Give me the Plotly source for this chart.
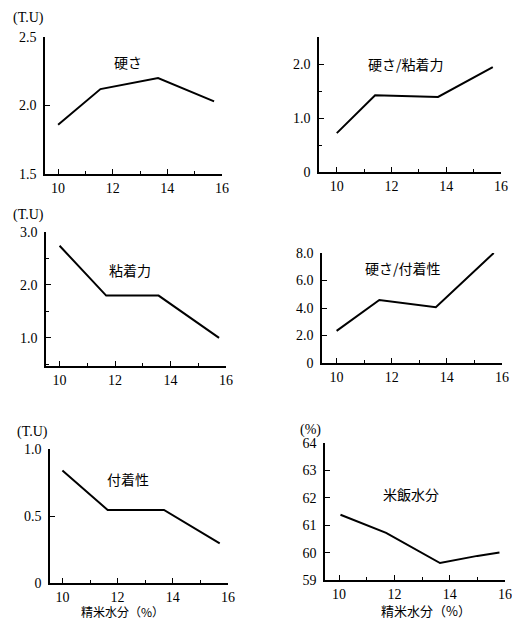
import plotly.graph_objects as go

# ---- data ----
hard_x = [10.0, 11.55, 13.66, 15.71]
hard_y = [1.86, 2.12, 2.20, 2.03]

hard_adh_x = [10.0, 11.4, 13.7, 15.7]
hard_adh_y = [0.72, 1.42, 1.39, 1.94]

adh_x = [10.0, 11.68, 13.57, 15.75]
adh_y = [2.74, 1.80, 1.80, 1.00]

hard_stick_x = [10.0, 11.55, 13.6, 15.7]
hard_stick_y = [2.34, 4.58, 4.05, 8.0]

stick_x = [10.0, 11.64, 13.68, 15.7]
stick_y = [0.84, 0.545, 0.545, 0.295]

rice_x = [10.05, 11.7, 13.65, 15.0, 15.8]
rice_y = [61.38, 60.72, 59.62, 59.88, 60.0]

x_ticks = [10, 12, 14, 16]
x_labels = ["10", "12", "14", "16"]

p1_ticks = [1.5, 2.0, 2.5]; p1_labels = ["1.5", "2.0", "2.5"]
p2_ticks = [0, 1.0, 2.0]; p2_labels = ["0", "1.0", "2.0"]
p3_ticks = [1.0, 2.0, 3.0]; p3_labels = ["1.0", "2.0", "3.0"]
p4_ticks = [0, 2, 4, 6, 8]; p4_labels = ["0", "2.0", "4.0", "6.0", "8.0"]
p5_ticks = [0, 0.5, 1.0]; p5_labels = ["0", "0.5", "1.0"]
p6_ticks = [59, 60, 61, 62, 63, 64]; p6_labels = ["59", "60", "61", "62", "63", "64"]

panel_titles = ["硬さ", "硬さ/粘着力", "粘着力", "硬さ/付着性", "付着性", "米飯水分"]
unit_labels = ["(T.U)", "(T.U)", "(T.U)", "(%)"]
x_title = "精米水分（%）"

W, H = 512, 620
SERIF = "Liberation Serif"
CJK = "Noto Sans CJK JP"

def fx(px):
    return px / W

def fy(py):
    return 1 - py / H

# panel geometry in window pixels: (x_left, x_right, y_top, y_bottom), axis ranges
panels = [
    dict(x=hard_x, y=hard_y, px=(45, 222, 37, 174), xr=[9.52, 16.0], yr=[1.5, 2.5],
         tv=p1_ticks, tt=p1_labels, minor=None),
    dict(x=hard_adh_x, y=hard_adh_y, px=(319, 501, 37, 172), xr=[9.35, 16.0], yr=[0, 2.5],
         tv=p2_ticks, tt=p2_labels, minor=0.5),
    dict(x=adh_x, y=adh_y, px=(46, 226, 232, 366), xr=[9.51, 16.0], yr=[0.47, 3.0],
         tv=p3_ticks, tt=p3_labels, minor=0.5),
    dict(x=hard_stick_x, y=hard_stick_y, px=(322, 502, 253, 363), xr=[9.47, 16.0], yr=[0, 8.0],
         tv=p4_ticks, tt=p4_labels, minor=None),
    dict(x=stick_x, y=stick_y, px=(50, 228, 449, 583), xr=[9.55, 16.0], yr=[0, 1.0],
         tv=p5_ticks, tt=p5_labels, minor=None),
    dict(x=rice_x, y=rice_y, px=(325, 505, 443, 580), xr=[9.49, 16.0], yr=[59, 64],
         tv=p6_ticks, tt=p6_labels, minor=None),
]

fig = go.Figure()
layout = dict(
    width=W, height=H, margin=dict(l=0, r=0, t=0, b=0, pad=0, autoexpand=False),
    paper_bgcolor="white", plot_bgcolor="white", showlegend=False,
)

for i, p in enumerate(panels, start=1):
    sfx = "" if i == 1 else str(i)
    fig.add_trace(go.Scatter(x=p["x"], y=p["y"], mode="lines",
                             line=dict(color="black", width=2),
                             xaxis="x" + sfx, yaxis="y" + sfx, hoverinfo="skip"))
    x0, x1, yt, yb = p["px"]
    xa = dict(domain=[fx(x0), fx(x1)], range=p["xr"], anchor="y" + sfx, automargin=False,
              showline=True, linecolor="black", linewidth=1.5, showgrid=False, zeroline=False,
              ticks="inside", ticklen=5, tickwidth=1.2, tickcolor="black",
              tickvals=x_ticks, ticktext=x_labels,
              tickfont=dict(family=SERIF, size=14, color="black"),
              minor=dict(ticks="inside", ticklen=3, tickwidth=1, tickcolor="black", dtick=1, tick0=10, showgrid=False))
    ya = dict(domain=[fy(yb), fy(yt)], range=p["yr"], anchor="x" + sfx, automargin=False,
              showline=True, linecolor="black", linewidth=1.5, showgrid=False, zeroline=False,
              ticks="inside", ticklen=5, tickwidth=1.2, tickcolor="black",
              tickvals=p["tv"], ticktext=p["tt"], ticklabelstandoff=4,
              tickfont=dict(family=SERIF, size=14, color="black"))
    if p["minor"]:
        ya["minor"] = dict(ticks="inside", ticklen=3, tickwidth=1, tickcolor="black",
                           dtick=p["minor"], tick0=0, showgrid=False)
    layout["xaxis" + sfx] = xa
    layout["yaxis" + sfx] = ya

fig.update_layout(**layout)

def px_ann(text, x, y, size, family):
    fig.add_annotation(text=text, x=fx(x), y=fy(y), xref="paper", yref="paper",
                       xanchor="center", yanchor="middle",
                       showarrow=False, font=dict(family=family, size=size, color="black"))

# panel labels
label_pos = [(128, 62), (406, 64), (130, 270), (403, 268), (128, 479), (411, 494)]
for t, (x, y) in zip(panel_titles, label_pos):
    px_ann(t, x, y, 14, CJK)

# unit labels
unit_pos = [(28, 18), (28, 215), (32, 432), (310, 430)]
for t, (x, y) in zip(unit_labels, unit_pos):
    px_ann(t, x, y, 14, SERIF)

# x-axis titles
px_ann(x_title, 122, 611, 12, CJK)
px_ann(x_title, 426, 610, 13, CJK)

fig.write_html("out.html", config={"responsive": False, "displayModeBar": False},
               post_script="document.body.style.margin='0px';document.documentElement.style.overflow='hidden';")
